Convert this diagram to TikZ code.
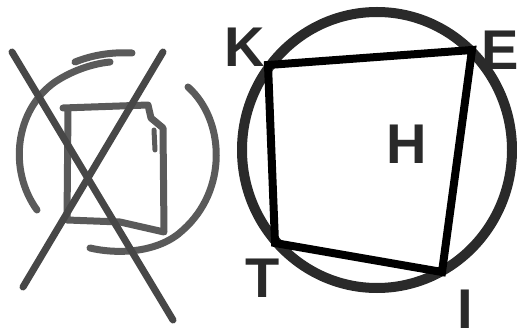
\documentclass[tikz,border=0pt]{standalone}
\usepackage{fontspec}
\setmainfont{Liberation Sans}
\usepackage{tikz}
\usetikzlibrary{positioning}
\definecolor{ink}{HTML}{2A2A2A}
\definecolor{sketch}{HTML}{5A5A5A}
\definecolor{sketchdark}{HTML}{474747}

\begin{document}
\begin{tikzpicture}[x=1pt,y=-1pt,
  letter/.style={font=\fontsize{56}{56}\selectfont\bfseries,text=ink,inner sep=0pt},
  pencil/.style={draw=sketch,line width=7pt,line cap=round,line join=round},
  strike/.style={draw=sketchdark,line width=7pt,line cap=round}]

  \useasboundingbox (0,0) rectangle (517,331);

  % crossed-out sketch
  \draw[pencil] (37,210) .. controls (8,170) and (15,110) .. (55,82)
    .. controls (70,72) and (90,64) .. (110,62);
  \draw[pencil] (75,62) .. controls (95,54) and (115,52) .. (132,53);
  \draw[pencil] (188,87) .. controls (225,120) and (228,190) .. (183,230)
    .. controls (160,252) and (120,255) .. (90,248);
  \draw[pencil] (63,108) -- (148,105) -- (151,118) -- (163,128)
    -- (164,232) -- (120,222) -- (67,220) -- (68,108);
  \draw[pencil,line width=5pt] (154,130) -- (155,150);
  \draw[strike] (12,52) -- (173,320);
  \draw[strike] (163,52) -- (23,287);

  % circle with inscribed quadrilateral
  \draw[ink,line width=10pt] (377,150) ellipse [x radius=135,y radius=138];
  \coordinate (k) at (268,65);
  \coordinate (e) at (472,50);
  \coordinate (i) at (442,272);
  \coordinate (t) at (275,243);
  \draw[black,line width=8pt,line join=miter] (k) -- (e) -- (i) -- (t) -- cycle;

  \node[letter] (labk) at (245,47) {K};
  \node[letter] (labe) at (500,50) {E};
  \node[letter] (labh) at (407,144) {H};
  \node[letter] (labt) at (263,278) {T};
  \node[letter] (labi) at (465,309) {I};

\end{tikzpicture}
\end{document}
